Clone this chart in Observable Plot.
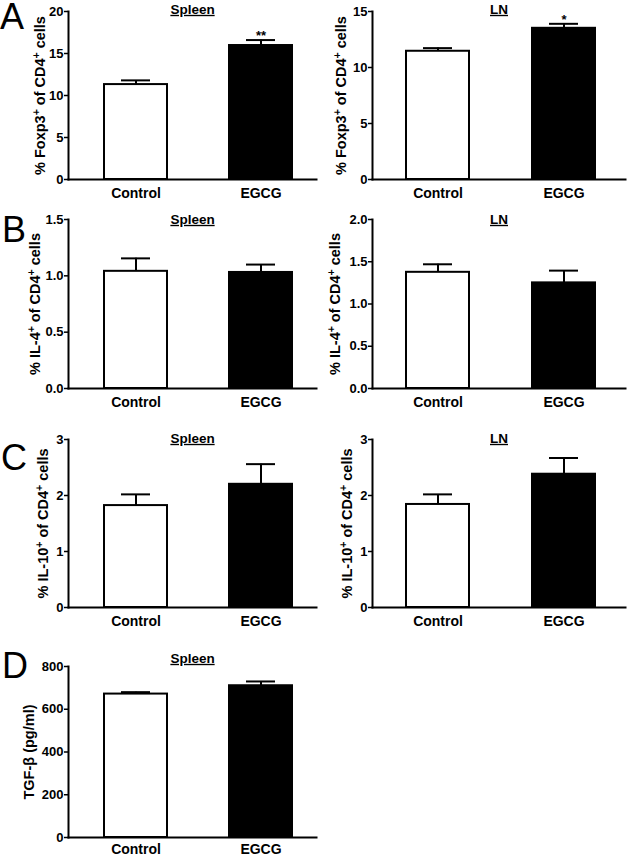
<!DOCTYPE html>
<html><head><meta charset="utf-8">
<script src="https://cdn.jsdelivr.net/npm/d3@7"></script>
<script src="https://cdn.jsdelivr.net/npm/@observablehq/plot@0.6"></script>
<style>
body{margin:0;background:#fff;}
#fig{position:relative;width:630px;height:856px;overflow:hidden;background:#fff;}
#fig > div{position:absolute;}
#fig svg{overflow:visible;}
</style></head><body><div id="fig"></div>
<script>
const FONT = '"Liberation Sans", Arial, Helvetica, sans-serif';
const groups = ["Control", "EGCG"];
const fills = ["#ffffff", "#000000"];

// A: Foxp3
const foxp3SpleenMean = [11.3, 15.95];
const foxp3SpleenSem  = [0.5, 0.65];
const foxp3SpleenSig  = ["", "**"];
const foxp3SpleenTicks = [0, 5, 10, 15, 20];
const foxp3LNMean = [11.45, 13.5];
const foxp3LNSem  = [0.28, 0.4];
const foxp3LNSig  = ["", "*"];
const foxp3LNTicks = [0, 5, 10, 15];
// B: IL-4
const il4SpleenMean = [1.04, 1.03];
const il4SpleenSem  = [0.115, 0.07];
const il4SpleenTicks = [0, 0.5, 1.0, 1.5];
const il4LNMean = [1.375, 1.25];
const il4LNSem  = [0.095, 0.145];
const il4LNTicks = [0, 0.5, 1.0, 1.5, 2.0];
// C: IL-10
const il10SpleenMean = [1.82, 2.2];
const il10SpleenSem  = [0.2, 0.36];
const il10LNMean = [1.84, 2.38];
const il10LNSem  = [0.18, 0.29];
const il10Ticks = [0, 1, 2, 3];
// D: TGF-beta
const tgfSpleenMean = [671, 710];
const tgfSpleenSem  = [9, 20];
const tgfTicks = [0, 200, 400, 600, 800];

const labelFoxp3 = "% Foxp3⁺ of CD4⁺ cells";
const labelIL4 = "% IL-4⁺ of CD4⁺ cells";
const labelIL10 = "% IL-10⁺ of CD4⁺ cells";
const labelTGF = "TGF-β (pg/ml)";
const letters = ["A", "B", "C", "D"];

// layout (pixels)
const rowFrame = [[11, 179], [219, 388], [439, 607], [666, 837]];
const rowTitleY = [9, 219, 438, 658];
const rowTickPad = [9, 9, 9, 7];
const letterPos = [[0, 29], [2, 242], [1, 470], [2, 678]];
const cols = [
  {left: 0, width: 320, mL: 68, mR: 4, off: 67.5, step: 125, bw: 63},
  {left: 310, width: 320, mL: 62, mR: 5, off: 65, step: 126, bw: 63}
];

const panels = [
  {row: 0, col: 0, title: "Spleen", mean: foxp3SpleenMean, sem: foxp3SpleenSem, sig: foxp3SpleenSig, ticks: foxp3SpleenTicks, fmt: d3.format("d"), label: labelFoxp3, lOff: 28},
  {row: 0, col: 1, title: "LN", mean: foxp3LNMean, sem: foxp3LNSem, sig: foxp3LNSig, ticks: foxp3LNTicks, fmt: d3.format("d"), label: labelFoxp3, lOff: 31},
  {row: 1, col: 0, title: "Spleen", mean: il4SpleenMean, sem: il4SpleenSem, ticks: il4SpleenTicks, fmt: d3.format(".1f"), label: labelIL4, lOff: 33},
  {row: 1, col: 1, title: "LN", mean: il4LNMean, sem: il4LNSem, ticks: il4LNTicks, fmt: d3.format(".1f"), label: labelIL4, lOff: 37},
  {row: 2, col: 0, title: "Spleen", mean: il10SpleenMean, sem: il10SpleenSem, ticks: il10Ticks, fmt: d3.format("d"), label: labelIL10, lOff: 25},
  {row: 2, col: 1, title: "LN", mean: il10LNMean, sem: il10LNSem, ticks: il10Ticks, fmt: d3.format("d"), label: labelIL10, lOff: 25},
  {row: 3, col: 0, title: "Spleen", mean: tgfSpleenMean, sem: tgfSpleenSem, ticks: tgfTicks, fmt: d3.format("d"), label: labelTGF, lOff: 39}
];

const fig = document.getElementById("fig");
const mT = 20, mB = 30;

function supify(svg) {
  d3.select(svg).selectAll("text").each(function () {
    const t = this.textContent;
    if (!t.includes("⁺")) return;
    const parts = t.split("⁺");
    const sel = d3.select(this);
    sel.text(null);
    parts.forEach((p, i) => {
      sel.append("tspan").text(p);
      if (i < parts.length - 1) sel.append("tspan").attr("baseline-shift", "super").attr("font-size", "0.72em").text("+");
    });
  });
}

for (const p of panels) {
  const c = cols[p.col];
  const [fTop, fBot] = rowFrame[p.row];
  const frameH = fBot - fTop;
  const height = mT + frameH + mB;
  const data = groups.map((g, i) => ({
    group: g, value: p.mean[i], top: p.mean[i] + p.sem[i], sig: p.sig ? p.sig[i] : ""
  }));
  const yDomain = [p.ticks[0], p.ticks[p.ticks.length - 1]];
  const len = 2 * c.off + c.step;
  const pi = 1 - c.bw / c.step;
  const po = (len / c.step - 2 + pi) / 2;
  const titleDy = rowTitleY[p.row] - fTop;

  const plot = Plot.plot({
    width: c.width, height,
    marginTop: mT, marginBottom: mB, marginLeft: c.mL, marginRight: c.mR,
    style: {background: "transparent", fontFamily: FONT, fontWeight: "bold", color: "#000", overflow: "visible"},
    x: {type: "band", domain: groups, range: [c.mL, c.mL + len], paddingInner: pi, paddingOuter: po, align: 0.5},
    y: {domain: yDomain},
    color: {domain: groups, range: fills},
    marks: [
      Plot.ruleX(data, {x: "group", y1: "value", y2: "top", stroke: "#000", strokeWidth: 2}),
      Plot.tickY(data, {x: "group", y: "top", stroke: "#000", strokeWidth: 2, insetLeft: 17, insetRight: 17}),
      Plot.barY(data, {x: "group", y: "value", fill: "group", stroke: "#000", strokeWidth: 2}),
      Plot.text(data, {x: "group", y: "top", text: "sig", lineAnchor: "bottom", dy: 0, fontSize: 13, fontWeight: "bold"}),
      Plot.frame({anchor: "left", stroke: "#000", strokeWidth: 2}),
      Plot.frame({anchor: "bottom", stroke: "#000", strokeWidth: 2}),
      Plot.axisY({ticks: p.ticks, tickFormat: p.fmt, tickSize: 4, tickPadding: 1, strokeWidth: 1.5, label: null, fontSize: 13, fontWeight: "bold"}),
      Plot.axisX({tickSize: 0, tickPadding: rowTickPad[p.row], label: null, fontSize: 14, fontWeight: "bold"}),
      Plot.text([p.label], {frameAnchor: "left", rotate: -90, dx: -p.lOff, fontSize: 14.5, fontWeight: "bold", textAnchor: "middle", lineAnchor: "middle"}),
      Plot.text([p.title], {frameAnchor: "top", dy: titleDy, lineAnchor: "middle", fontSize: 13.5, fontWeight: "bold"})
    ]
  });
  supify(plot);
  d3.select(plot).selectAll("text").filter(function () { return this.textContent === p.title; }).attr("text-decoration", "underline");
  const wrap = document.createElement("div");
  wrap.style.left = c.left + "px";
  wrap.style.top = (fTop - mT) + "px";
  wrap.appendChild(plot);
  fig.appendChild(wrap);
}

// panel letters
const ov = d3.select(fig).append("svg")
  .attr("width", 630).attr("height", 856)
  .style("position", "absolute").style("left", 0).style("top", 0);
ov.selectAll("text").data(letters).join("text")
  .attr("x", (d, i) => letterPos[i][0]).attr("y", (d, i) => letterPos[i][1])
  .attr("font-family", FONT).attr("font-size", 36).attr("fill", "#000")
  .text(d => d);
</script>
</body></html>
